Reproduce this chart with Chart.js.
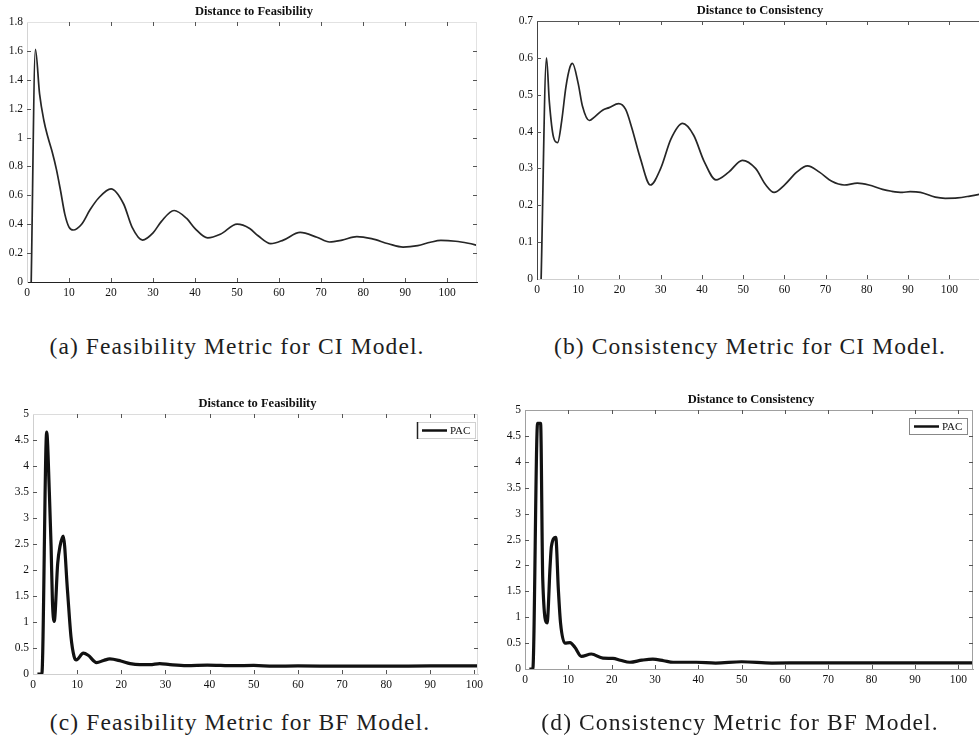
<!DOCTYPE html>
<html>
<head>
<meta charset="utf-8">
<script src="https://cdn.jsdelivr.net/npm/chart.js@4.4.1/dist/chart.umd.min.js"></script>
<style>
  html, body { margin: 0; padding: 0; background: #fff; }
  #page { position: relative; width: 979px; height: 738px; overflow: hidden; background: #fff; }
  #page canvas { position: absolute; }
  .cap {
    position: absolute;
    font-family: "Liberation Serif", serif;
    font-size: 23.5px;
    letter-spacing: 1.1px;
    line-height: 1;
    color: #1e1e1e;
    white-space: nowrap;
    transform: translateX(-50%);
  }
</style>
</head>
<body>
<div id="page">
  <canvas id="panelA" width="490" height="305" style="left:0;top:0"></canvas>
  <canvas id="panelB" width="490" height="305" style="left:489px;top:0"></canvas>
  <canvas id="panelC" width="490" height="306" style="left:0;top:390px"></canvas>
  <canvas id="panelD" width="490" height="306" style="left:489px;top:390px"></canvas>
  <div class="cap" style="left:237px;top:335px">(a) Feasibility Metric for CI Model.</div>
  <div class="cap" style="left:750px;top:335px">(b) Consistency Metric for CI Model.</div>
  <div class="cap" style="left:240px;top:711px">(c) Feasibility Metric for BF Model.</div>
  <div class="cap" style="left:740px;top:711px">(d) Consistency Metric for BF Model.</div>
</div>
<script>
// ---- iteration / distance series ----
const iterCIFeas = [1, 2, 3, 4, 5, 6, 7, 8, 9, 10, 11, 13, 15, 17, 20, 23, 25, 27.5, 30, 32, 35, 38, 40, 43, 46, 50, 53, 55, 58, 61, 65, 69, 72, 75, 78.5, 82, 86, 89.5, 93, 96, 98.5, 102, 105, 107.5];
const distCIFeas = [0, 1.61, 1.30, 1.12, 1.00, 0.90, 0.78, 0.63, 0.47, 0.38, 0.36, 0.40, 0.50, 0.58, 0.645, 0.54, 0.38, 0.29, 0.34, 0.42, 0.495, 0.44, 0.37, 0.305, 0.33, 0.40, 0.37, 0.32, 0.265, 0.29, 0.343, 0.31, 0.277, 0.29, 0.314, 0.30, 0.265, 0.242, 0.252, 0.275, 0.288, 0.282, 0.268, 0.252];

const iterCICons = [1, 2.3, 3, 4, 5, 6, 7, 8, 8.6, 10, 11, 12.7, 14, 15.9, 17.5, 19.8, 21.5, 23, 25, 27.5, 30, 32.5, 35.3, 38, 40.5, 43.4, 46.5, 49.8, 53, 55.5, 57.5, 60, 63, 65.6, 68.5, 71.5, 74.5, 77.7, 80.5, 83.8, 86, 88.6, 90.5, 93, 96.6, 99, 102, 105, 107.5];
const distCICons = [0, 0.60, 0.48, 0.385, 0.37, 0.43, 0.52, 0.575, 0.585, 0.53, 0.47, 0.43, 0.44, 0.458, 0.465, 0.476, 0.46, 0.41, 0.33, 0.255, 0.30, 0.38, 0.422, 0.39, 0.32, 0.269, 0.29, 0.322, 0.30, 0.255, 0.235, 0.255, 0.29, 0.307, 0.29, 0.265, 0.255, 0.26, 0.255, 0.243, 0.238, 0.235, 0.237, 0.235, 0.222, 0.219, 0.22, 0.225, 0.23];

const iterBFFeas = [1, 2, 3.1, 3.7, 4.1, 4.4, 4.8, 5.6, 6.1, 6.85, 7.8, 8.6, 9.3, 9.8, 11.4, 12.5, 14.4, 16, 17.4, 19.9, 22, 24.2, 26.5, 28.7, 31, 34.8, 39.5, 42.5, 45.5, 50, 54.5, 60, 70, 80, 90, 100.8];
const distBFFeas = [0, 0, 4.65, 3.5, 2.45, 1.4, 1.01, 2.13, 2.45, 2.65, 1.62, 0.72, 0.34, 0.27, 0.40, 0.36, 0.22, 0.26, 0.29, 0.25, 0.2, 0.18, 0.18, 0.2, 0.18, 0.16, 0.17, 0.165, 0.16, 0.165, 0.15, 0.155, 0.15, 0.15, 0.155, 0.155];

const iterBFCons = [1, 1.8, 2.9, 3.6, 4.1, 5.1, 5.8, 6.1, 7.1, 7.7, 8.2, 9.2, 10.4, 11.5, 13, 15.3, 18, 20.3, 22, 24.2, 27, 29.5, 32, 34.2, 39.5, 44, 50, 57, 65, 75, 85, 95, 103.4];
const distBFCons = [0, 0, 4.74, 4.74, 1.72, 0.89, 2.0, 2.37, 2.54, 1.53, 0.89, 0.5, 0.51, 0.42, 0.245, 0.29, 0.21, 0.205, 0.17, 0.13, 0.17, 0.19, 0.16, 0.13, 0.13, 0.115, 0.14, 0.115, 0.12, 0.12, 0.12, 0.12, 0.12];

// ---- tick values ----
const xTicks = [0, 10, 20, 30, 40, 50, 60, 70, 80, 90, 100];
const yTicksCIFeas = [0, 0.2, 0.4, 0.6, 0.8, 1, 1.2, 1.4, 1.6, 1.8];
const yTicksCICons = [0, 0.1, 0.2, 0.3, 0.4, 0.5, 0.6, 0.7];
const yTicksBF = [0, 0.5, 1, 1.5, 2, 2.5, 3, 3.5, 4, 4.5, 5];

// ---- labels ----
const titleFeas = 'Distance to Feasibility';
const titleCons = 'Distance to Consistency';
const seriesLabel = 'PAC';

const SERIF = '"Liberation Serif", "Times New Roman", serif';

// Plot decorations in the MATLAB style: top/right frame, inward ticks, title, boxed legend
const decorPlugin = {
  id: 'decor',
  afterDraw(chart, args, o) {
    const { ctx, chartArea: a, scales: { x, y } } = chart;
    ctx.save();
    ctx.lineWidth = 1;

    // top and right frame edges
    if (o.topColor) {
      ctx.strokeStyle = o.topColor;
      ctx.beginPath(); ctx.moveTo(a.left, a.top + 0.5); ctx.lineTo(a.right, a.top + 0.5); ctx.stroke();
    }
    if (o.rightColor) {
      ctx.strokeStyle = o.rightColor;
      ctx.beginPath(); ctx.moveTo(a.right - 0.5, a.top); ctx.lineTo(a.right - 0.5, a.bottom); ctx.stroke();
    }

    // inward tick marks on all four sides
    ctx.strokeStyle = o.tickColor;
    const tl = 4;
    x.ticks.forEach(t => {
      const px = Math.round(x.getPixelForValue(t.value)) + 0.5;
      if (px <= a.left + 1 || px >= a.right - 1) return;
      ctx.beginPath();
      ctx.moveTo(px, a.bottom); ctx.lineTo(px, a.bottom - tl);
      ctx.moveTo(px, a.top); ctx.lineTo(px, a.top + tl);
      ctx.stroke();
    });
    y.ticks.forEach(t => {
      const py = Math.round(y.getPixelForValue(t.value)) + 0.5;
      if (py <= a.top + 1 || py >= a.bottom - 1) return;
      ctx.beginPath();
      ctx.moveTo(a.left, py); ctx.lineTo(a.left + tl, py);
      if (o.rightTicks) { ctx.moveTo(a.right, py); ctx.lineTo(a.right - tl, py); }
      ctx.stroke();
    });

    // title above the axes
    ctx.fillStyle = '#111';
    ctx.font = 'bold 12.5px ' + SERIF;
    ctx.textAlign = 'center';
    ctx.textBaseline = 'middle';
    ctx.fillText(o.title, (a.left + a.right) / 2 + 2, a.top - 10);

    // legend box in the upper right corner
    if (o.legend) {
      const ds = chart.data.datasets[0];
      const bw = 58, bh = 16;
      const bx = a.right - o.legend.inset - bw, by = a.top + 8;
      ctx.fillStyle = '#fff';
      ctx.fillRect(bx, by, bw, bh);
      ctx.strokeStyle = o.legend.boxColor;
      ctx.strokeRect(bx + 0.5, by + 0.5, bw, bh);
      if (o.legend.leftColor) {
        ctx.strokeStyle = o.legend.leftColor;
        ctx.lineWidth = 1.5;
        ctx.beginPath(); ctx.moveTo(bx + 0.5, by); ctx.lineTo(bx + 0.5, by + bh + 1); ctx.stroke();
      }
      ctx.strokeStyle = ds.borderColor;
      ctx.lineWidth = 2.5;
      ctx.beginPath(); ctx.moveTo(bx + 5, by + bh / 2 + 0.5); ctx.lineTo(bx + 30, by + bh / 2 + 0.5); ctx.stroke();
      ctx.fillStyle = '#111';
      ctx.font = '11px ' + SERIF;
      ctx.textAlign = 'left';
      ctx.fillText(ds.label, bx + 33, by + bh / 2 + 1);
    }
    ctx.restore();
  }
};

function fmt(v) { return String(Number(Number(v).toFixed(2))); }

function makePanel(id, iters, vals, p) {
  const pts = iters.map((it, i) => ({ x: it, y: vals[i] }));
  const tickFont = { family: SERIF, size: 11.5 };
  return new Chart(document.getElementById(id), {
    type: 'line',
    data: {
      datasets: [{
        label: seriesLabel,
        data: pts,
        borderColor: p.lineColor,
        borderWidth: p.lineWidth,
        pointRadius: 0,
        fill: false,
        cubicInterpolationMode: 'monotone'
      }]
    },
    options: {
      responsive: false,
      animation: false,
      devicePixelRatio: 1,
      events: [],
      layout: { padding: { top: p.padTop, right: p.padRight, left: 0, bottom: 0 } },
      plugins: {
        legend: { display: false },
        tooltip: { enabled: false },
        title: { display: false },
        decor: {
          title: p.title,
          topColor: p.topColor,
          rightColor: p.rightColor,
          rightTicks: p.rightTicks,
          tickColor: '#555',
          legend: p.legend
        }
      },
      scales: {
        x: {
          type: 'linear',
          min: 0,
          max: p.xMax,
          afterBuildTicks: s => { s.ticks = xTicks.map(v => ({ value: v })); },
          afterFit: s => { s.height = p.xHeight; },
          grid: { display: true, drawOnChartArea: false, drawTicks: false },
          border: { display: true, color: p.bottomColor, width: 1 },
          ticks: { padding: 4, font: tickFont, color: '#111', maxRotation: 0, autoSkip: false, callback: fmt }
        },
        y: {
          type: 'linear',
          min: 0,
          max: p.yMax,
          afterBuildTicks: s => { s.ticks = p.yTicks.map(v => ({ value: v })); },
          afterFit: s => { s.width = p.yWidth; },
          grid: { display: true, drawOnChartArea: false, drawTicks: false },
          border: { display: true, color: p.leftColor, width: 1 },
          ticks: { padding: 4, font: tickFont, color: '#111', autoSkip: false, callback: fmt }
        }
      }
    },
    plugins: [decorPlugin]
  });
}

makePanel('panelA', iterCIFeas, distCIFeas, {
  title: titleFeas, xMax: 107.1, yMax: 1.8, yTicks: yTicksCIFeas,
  padTop: 22, padRight: 13, yWidth: 27, xHeight: 23,
  lineColor: '#262626', lineWidth: 1.7,
  leftColor: '#d4d4d4', bottomColor: '#222', topColor: '#e2e2e2', rightColor: '#e2e2e2', rightTicks: true
});

makePanel('panelB', iterCICons, distCICons, {
  title: titleCons, xMax: 107.2, yMax: 0.7, yTicks: yTicksCICons,
  padTop: 21, padRight: 0, yWidth: 48, xHeight: 26,
  lineColor: '#262626', lineWidth: 1.7,
  leftColor: '#444', bottomColor: '#cfcfcf', topColor: '#555', rightColor: null, rightTicks: false
});

makePanel('panelC', iterBFFeas, distBFFeas, {
  title: titleFeas, xMax: 100.8, yMax: 5, yTicks: yTicksBF,
  padTop: 24, padRight: 12, yWidth: 33, xHeight: 22,
  lineColor: '#111', lineWidth: 3.2,
  leftColor: '#cfcfcf', bottomColor: '#cfcfcf', topColor: '#dcdcdc', rightColor: '#dcdcdc', rightTicks: true,
  legend: { inset: 3, boxColor: '#d0d0d0', leftColor: '#222' }
});

makePanel('panelD', iterBFCons, distBFCons, {
  title: titleCons, xMax: 103.4, yMax: 5, yTicks: yTicksBF,
  padTop: 20, padRight: 6, yWidth: 36, xHeight: 27,
  lineColor: '#111', lineWidth: 3.2,
  leftColor: '#a0a0a0', bottomColor: '#a0a0a0', topColor: '#a0a0a0', rightColor: '#a0a0a0', rightTicks: true,
  legend: { inset: 6, boxColor: '#888', leftColor: null }
});
</script>
</body>
</html>
